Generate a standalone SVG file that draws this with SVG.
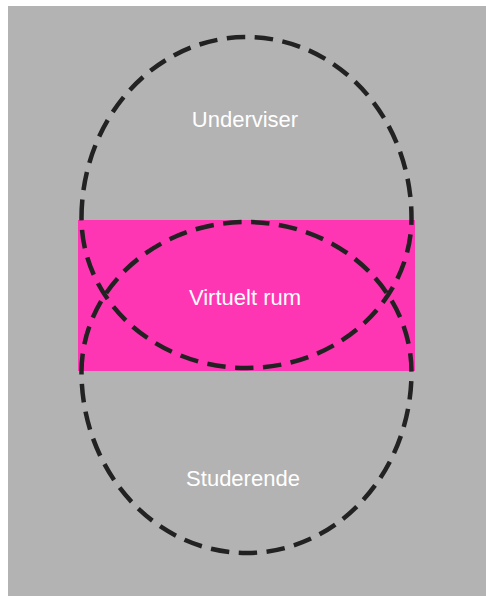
<svg xmlns="http://www.w3.org/2000/svg" width="486" height="596" viewBox="0 0 486 596">
  <style>
    .outline { fill: none; stroke: #222222; stroke-width: 4.5; stroke-dasharray: 18.5 9.5; }
    .label { font-family: "Liberation Sans", Arial, sans-serif; font-size: 22px; fill: #ffffff; text-anchor: middle; }
  </style>
  <rect x="0" y="0" width="486" height="596" fill="#ffffff"/>
  <rect x="8" y="6" width="478" height="590" fill="#b3b3b3"/>

  <!-- shared virtual room band -->
  <g id="virtuelt-rum">
    <rect x="78" y="220" width="337" height="151" fill="#ff36b3"/>
    <text class="label" x="245" y="305">Virtuelt rum</text>
  </g>

  <!-- teacher area: tall upper dome, shallow lower bowl -->
  <g id="underviser">
    <path class="outline" d="M 81.5,218 A 165,181 0 0 1 411.5,218 A 165,150 0 0 1 81.5,218 Z"/>
    <text class="label" x="245" y="127">Underviser</text>
  </g>

  <!-- student area: shallow upper dome, tall lower bowl -->
  <g id="studerende">
    <path class="outline" d="M 81.5,372 A 165,150 0 0 1 411.5,372 A 165,181 0 0 1 81.5,372 Z"/>
    <text class="label" x="243" y="486">Studerende</text>
  </g>
</svg>
